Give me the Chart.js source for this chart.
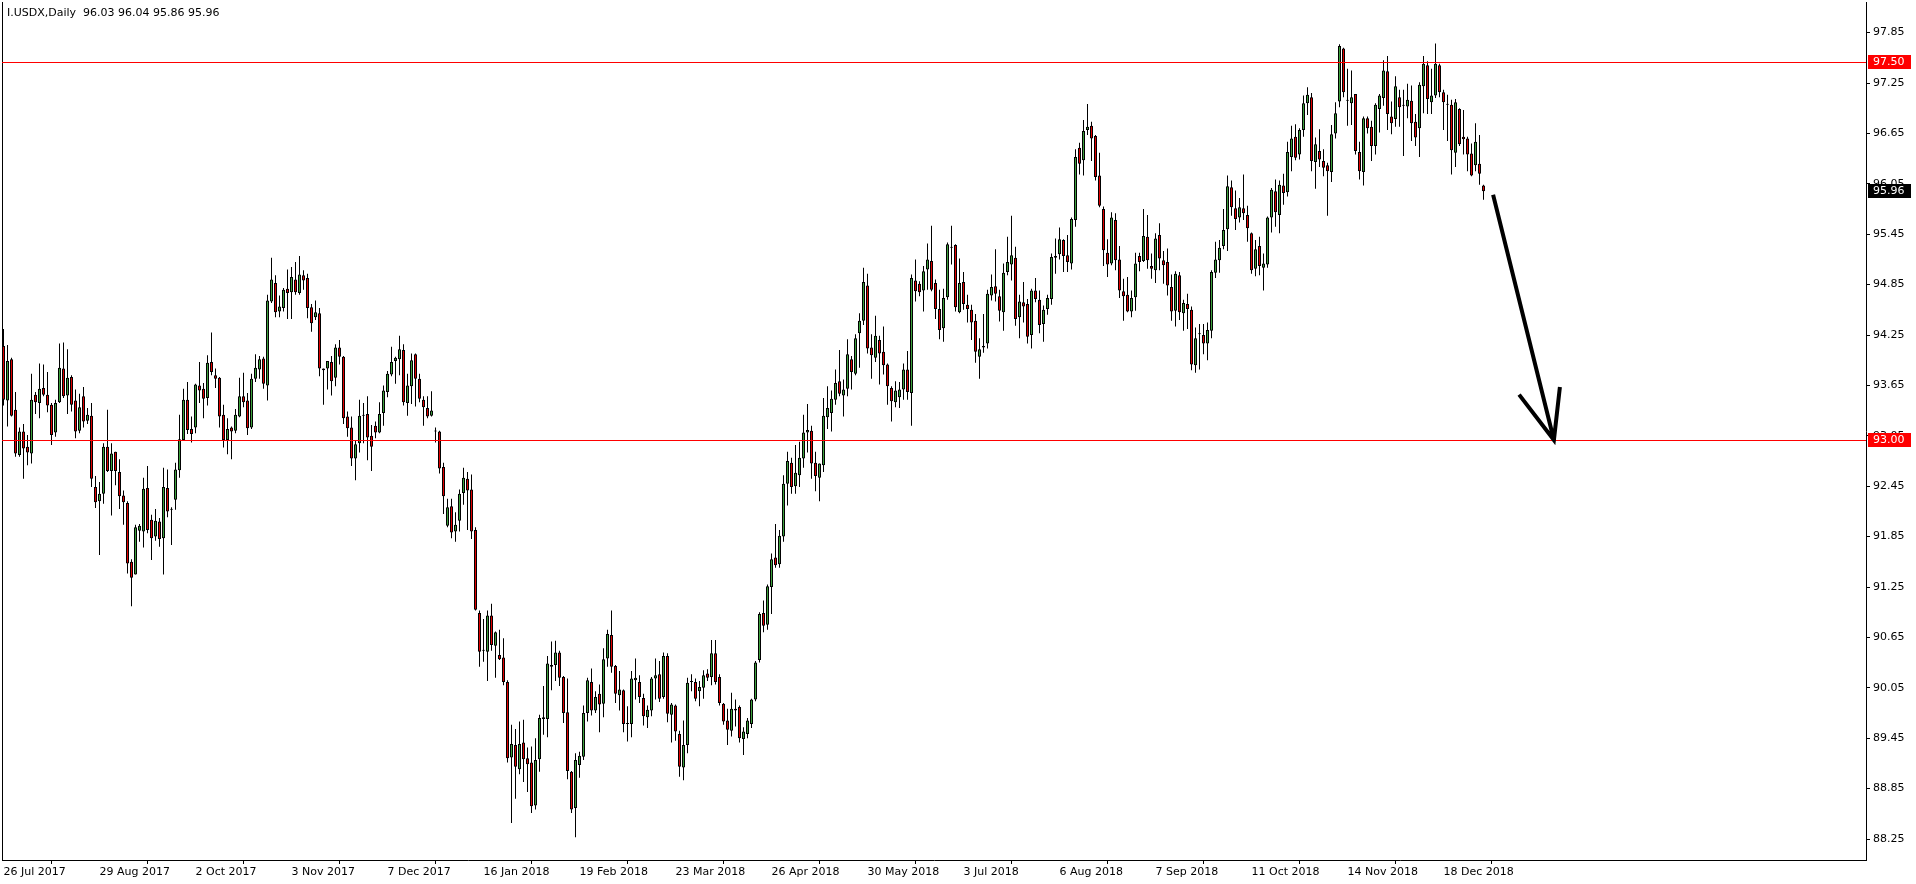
<!DOCTYPE html>
<html>
<head>
<meta charset="utf-8">
<script src="https://cdn.jsdelivr.net/npm/chart.js@4.4.1/dist/chart.umd.min.js"></script>
<style>
html,body{margin:0;padding:0;background:#fff;overflow:hidden}
#wrap{position:relative;width:1916px;height:884px}
#hdr{position:absolute;left:7px;top:6px;font:11px "DejaVu Sans";line-height:13px;color:#000;white-space:pre}
</style>
</head>
<body>
<div id="wrap">
<canvas id="c" width="1916" height="884"></canvas>
<div id="hdr">I.USDX,Daily  96.03 96.04 95.86 95.96</div>
</div>
<script>
// ---- data (daily OHLC, bar index 0 = 26 Jul 2017) ----
const opens = [
94.12,93.47,93.96,93.36,92.82,93.10,92.92,92.84,93.54,93.44,93.62,93.54,93.42,93.09,93.45,93.85,93.53,93.75,93.47,93.11,
93.52,93.23,93.29,92.44,92.27,92.36,92.92,92.63,92.86,92.62,92.34,92.25,91.55,91.40,91.92,91.91,92.43,92.05,91.85,92.03,
91.83,92.43,92.17,92.29,92.64,93.00,93.48,93.13,93.15,93.65,93.61,93.50,93.93,93.77,93.74,93.30,93.00,93.15,93.11,93.28,
93.52,93.47,93.15,93.73,93.84,93.97,93.65,94.65,94.87,94.53,94.57,94.80,94.76,94.91,94.75,94.96,94.93,94.58,94.46,94.51,
93.85,93.85,93.93,93.74,94.10,93.99,93.28,93.15,92.78,92.96,93.29,93.31,93.05,93.17,93.09,93.32,93.57,93.78,93.94,93.96,
94.07,93.44,93.64,94.02,93.73,93.48,93.38,93.29,93.10,93.10,92.68,91.98,92.21,91.91,92.04,92.37,92.54,92.41,91.93,90.94,
90.50,90.48,90.91,90.55,90.44,90.41,90.12,89.22,89.37,89.08,89.40,89.21,89.16,88.65,89.20,89.68,89.68,90.30,90.32,90.47,
90.18,89.76,89.05,88.62,89.13,89.23,89.75,90.12,89.78,89.98,89.86,90.40,90.68,90.31,89.96,90.02,89.62,89.62,90.14,90.12,
89.93,89.70,89.78,90.16,90.21,89.94,90.43,89.73,89.84,89.50,89.10,89.37,90.12,90.12,90.01,90.05,90.22,90.18,90.46,90.18,
89.86,89.66,89.54,89.80,89.82,89.44,89.50,89.62,89.91,90.38,90.94,90.80,91.25,91.60,91.52,91.85,92.48,92.73,92.45,92.58,
92.78,93.09,93.11,92.73,92.55,92.70,93.27,93.32,93.48,93.70,93.53,93.61,93.96,93.79,94.27,94.42,94.84,94.10,93.98,94.19,
94.05,93.90,93.62,93.45,93.51,93.60,93.84,93.56,94.90,94.86,94.78,95.03,95.13,94.87,94.56,94.33,94.70,95.30,95.32,94.52,
94.88,94.61,94.55,94.42,93.99,94.10,94.15,94.72,94.83,94.71,94.52,95.00,95.09,95.17,94.46,94.64,94.62,94.25,94.78,94.67,
94.38,94.56,94.68,95.17,95.21,95.38,95.20,95.10,95.62,96.48,96.33,96.69,96.74,96.62,96.15,95.75,95.23,95.10,95.62,95.15,
94.77,94.73,94.53,94.70,95.19,95.13,95.42,95.07,95.02,95.44,95.14,95.12,94.82,94.54,94.96,94.51,94.62,94.55,93.89,94.26,
94.25,94.15,94.30,94.99,95.14,95.31,95.51,96.01,95.76,95.65,95.76,95.68,95.46,95.04,95.31,95.05,95.09,95.65,95.96,95.68,
96.03,95.95,96.37,96.61,96.40,96.69,97.01,97.08,96.31,96.44,96.32,96.27,96.19,96.65,97.03,97.66,97.04,97.01,97.12,96.43,
96.19,96.83,96.73,96.50,96.94,97.07,97.39,96.85,96.82,97.08,96.99,96.97,97.04,96.79,96.71,97.21,97.46,97.02,97.10,97.46,
97.14,97.00,96.99,96.42,96.94,96.61,96.59,96.41,96.27,96.29,96.03
];
const highs = [
94.32,94.13,93.98,93.57,93.15,93.19,93.06,93.79,93.57,93.91,93.90,93.81,93.44,93.48,94.15,94.16,94.08,93.77,93.60,93.55,
93.63,93.38,93.44,92.57,92.50,92.96,93.36,92.96,92.86,92.77,92.40,92.27,91.58,91.99,92.00,92.55,92.69,92.11,92.18,92.07,
92.67,92.65,92.20,92.73,93.30,93.61,93.69,93.28,93.67,93.93,93.68,94.01,94.28,93.85,93.75,93.42,93.26,93.16,93.37,93.74,
93.80,93.56,93.79,94.02,94.00,93.99,94.73,95.17,94.96,94.72,94.81,95.03,95.06,95.12,95.19,95.02,94.98,94.62,94.66,94.57,
93.85,93.94,94.00,94.14,94.19,94.00,93.34,93.28,93.00,93.48,93.44,93.52,93.18,93.22,93.45,93.65,93.82,94.11,93.99,94.24,
94.14,93.79,94.03,94.03,93.79,93.52,93.52,93.58,93.15,93.11,92.73,92.30,92.30,92.14,92.41,92.67,92.62,92.59,91.96,90.97,
90.87,90.97,91.05,90.72,90.74,90.64,90.14,89.61,89.56,89.65,89.67,89.34,89.35,89.45,89.73,90.07,90.43,90.60,90.61,90.49,
90.19,90.16,89.06,89.27,89.29,89.84,90.17,90.28,90.01,90.09,90.52,90.74,90.97,90.32,90.25,90.03,89.83,90.25,90.40,90.20,
89.98,89.84,90.18,90.40,90.37,90.47,90.46,89.87,89.85,89.54,89.66,90.17,90.21,90.16,90.13,90.26,90.27,90.62,90.62,90.21,
89.87,89.80,89.99,89.91,89.84,89.58,89.69,89.92,90.37,90.95,91.09,91.28,91.65,92.00,91.93,92.58,92.86,92.79,92.94,92.98,
93.30,93.43,93.17,92.86,92.72,93.50,93.64,93.59,93.84,94.07,93.72,94.20,94.00,94.26,94.51,95.05,94.98,94.26,94.48,94.24,
94.35,93.91,93.64,93.70,93.69,93.91,94.06,94.97,95.15,94.89,95.07,95.34,95.55,94.91,94.79,94.80,95.35,95.55,95.33,95.16,
95.00,94.73,94.61,94.50,94.21,94.50,94.79,94.97,95.27,94.79,95.10,95.42,95.67,95.30,94.73,94.88,94.68,94.80,94.93,94.78,
94.60,94.73,95.22,95.40,95.53,95.39,95.44,95.65,96.46,96.54,96.81,97.00,96.79,96.63,96.42,95.78,95.39,95.71,95.70,95.31,
94.92,94.94,94.78,95.23,95.23,95.75,95.68,95.22,95.46,95.58,95.25,95.28,94.97,95.01,95.00,94.67,94.74,94.59,94.34,94.38,
94.38,94.40,95.02,95.36,95.38,95.75,96.15,96.09,95.97,95.88,96.16,95.79,95.47,95.38,95.42,95.22,95.66,96.00,96.10,96.09,
96.17,96.55,96.74,96.76,96.71,97.10,97.20,97.13,96.60,96.70,96.46,96.30,96.75,97.02,97.71,97.67,97.42,97.40,97.12,96.55,
96.85,96.85,96.80,97.01,97.12,97.52,97.57,97.03,97.33,97.17,97.17,97.24,97.22,96.88,97.26,97.57,97.51,97.42,97.72,97.48,
97.17,97.11,97.05,97.06,96.95,96.93,96.61,96.53,96.77,96.63,96.04
];
const lows = [
93.41,93.16,93.28,92.80,92.80,92.54,92.70,92.72,93.31,93.26,93.52,93.33,92.94,93.04,93.44,93.50,93.31,93.34,93.02,93.08,
93.15,93.19,92.44,92.19,91.63,92.24,92.62,92.10,92.46,92.18,91.99,91.41,91.02,91.40,91.79,91.72,91.89,91.57,91.80,91.73,
91.40,92.08,91.75,92.17,92.55,92.99,93.07,92.97,93.08,93.44,93.26,93.41,93.77,93.62,93.15,92.91,92.83,92.77,93.08,93.27,
93.39,93.06,93.13,93.69,93.73,93.61,93.47,94.63,94.46,94.46,94.53,94.44,94.44,94.73,94.73,94.79,94.45,94.29,94.43,93.76,
93.42,93.60,93.53,93.64,93.90,93.19,93.04,92.69,92.52,92.85,92.96,92.76,92.63,93.02,93.08,93.17,93.51,93.76,93.67,93.77,
93.41,93.29,93.43,93.40,93.45,93.17,93.26,93.28,92.97,92.60,92.12,91.96,91.83,91.79,91.91,92.23,91.93,91.82,90.97,90.30,
90.36,90.13,90.49,90.17,90.38,90.08,89.16,88.44,88.73,89.02,88.93,88.81,88.56,88.60,89.05,89.49,89.46,90.02,90.13,90.07,
89.63,88.96,88.56,88.27,88.98,89.19,89.65,89.72,89.75,89.52,89.70,90.30,90.23,89.87,89.78,89.52,89.41,89.46,89.91,89.87,
89.60,89.57,89.71,89.91,89.88,89.92,89.64,89.40,89.42,88.99,88.95,89.27,90.01,89.89,89.83,89.92,90.13,90.08,90.09,89.84,
89.61,89.37,89.47,89.59,89.40,89.25,89.45,89.57,89.89,90.35,90.71,90.74,90.93,91.48,91.48,91.79,92.22,92.36,92.36,92.44,
92.67,92.85,92.54,92.39,92.27,92.62,93.13,93.10,93.42,93.52,93.28,93.52,93.60,93.77,93.86,94.37,94.03,93.73,93.93,93.66,
93.78,93.42,93.22,93.39,93.38,93.48,93.48,93.17,94.65,94.71,94.53,94.79,94.77,94.44,94.20,94.17,94.67,95.09,94.53,94.51,
94.55,94.40,94.19,93.92,93.73,94.04,94.09,94.66,94.65,94.41,94.30,94.96,94.90,94.36,94.21,94.40,94.15,94.09,94.64,94.27,
94.17,94.49,94.61,94.98,95.15,95.00,95.00,95.03,95.54,96.16,96.15,96.63,96.32,96.09,95.77,95.07,94.94,95.08,95.02,94.69,
94.42,94.52,94.46,94.54,95.01,95.12,95.04,94.92,94.87,95.02,94.86,94.72,94.42,94.35,94.43,94.30,94.32,93.83,93.80,93.84,
94.02,93.95,94.21,94.93,94.99,95.27,95.25,95.67,95.50,95.59,95.62,95.36,94.98,94.95,94.96,94.78,95.05,95.47,95.54,95.46,
95.80,95.90,96.20,96.33,96.34,96.61,96.87,96.20,95.99,96.25,96.14,95.67,96.07,96.59,96.96,97.08,96.74,96.75,96.40,96.10,
96.03,96.65,96.32,96.40,96.66,96.98,96.69,96.64,96.73,96.73,96.38,96.83,96.56,96.50,96.37,96.89,96.88,96.88,97.07,97.08,
96.69,96.56,96.16,96.25,96.50,96.40,96.20,96.14,96.20,96.04,95.86
];
const closes = [
93.48,93.94,93.29,92.84,93.10,92.90,92.85,93.48,93.45,93.61,93.54,93.41,93.06,93.44,93.86,93.52,93.74,93.42,93.10,93.39,
93.22,93.30,92.54,92.26,92.36,92.92,92.63,92.84,92.63,92.33,92.26,91.53,91.36,91.96,91.98,92.42,91.93,91.83,92.04,91.82,
92.44,92.15,92.18,92.65,93.01,93.48,93.12,93.07,93.66,93.59,93.49,93.92,93.81,93.73,93.28,93.00,93.13,93.10,93.30,93.52,
93.45,93.14,93.73,93.86,93.96,93.67,94.66,94.91,94.52,94.59,94.79,94.75,94.94,94.76,94.97,94.90,94.57,94.39,94.52,93.85,
93.83,93.94,93.70,94.10,93.99,93.26,93.14,92.78,92.95,93.29,93.30,93.03,92.92,93.09,93.31,93.59,93.79,93.93,93.98,94.08,
93.45,93.65,93.95,93.73,93.49,93.39,93.28,93.35,93.11,92.66,92.33,92.20,91.90,91.99,92.36,92.55,92.40,91.91,90.98,90.48,
90.49,90.91,90.56,90.71,90.39,90.12,89.21,89.38,89.11,89.38,89.20,89.14,88.64,89.19,89.69,89.70,90.34,90.32,90.47,90.17,
89.75,89.06,88.60,89.19,89.24,89.75,90.14,89.78,89.94,89.85,90.39,90.69,90.30,89.98,90.03,89.62,89.62,90.16,90.17,89.94,
89.71,89.79,90.16,90.20,89.92,90.43,89.74,89.85,89.53,89.11,89.37,90.11,90.13,89.92,90.06,90.20,90.17,90.46,90.12,89.87,
89.65,89.55,89.80,89.78,89.45,89.53,89.66,89.91,90.35,90.93,90.79,91.26,91.58,91.51,91.86,92.48,92.75,92.44,92.61,92.79,
93.09,93.12,92.72,92.57,92.72,93.29,93.38,93.49,93.68,93.55,93.60,94.02,93.81,94.21,94.42,94.88,94.09,94.01,94.24,94.03,
93.89,93.64,93.46,93.59,93.60,93.84,93.57,94.93,94.77,94.76,95.01,95.15,94.79,94.56,94.31,94.69,95.33,95.29,94.58,94.87,
94.62,94.56,94.40,94.05,94.08,94.12,94.74,94.82,94.74,94.54,94.99,95.12,95.20,94.44,94.65,94.59,94.23,94.78,94.68,94.37,
94.55,94.69,95.18,95.19,95.39,95.19,95.12,95.63,96.37,96.29,96.68,96.73,96.59,96.13,95.79,95.26,95.09,95.65,95.14,94.78,
94.71,94.53,94.69,95.10,95.12,95.43,95.14,95.04,95.40,95.16,95.08,94.84,94.53,94.98,94.52,94.63,94.56,93.90,94.21,94.26,
94.15,94.31,95.00,95.15,95.29,95.50,96.02,95.77,95.63,95.77,95.70,95.52,95.02,95.27,95.07,95.10,95.65,95.98,95.71,96.04,
95.94,96.43,96.59,96.36,96.69,97.01,97.11,96.32,96.52,96.34,96.24,96.20,96.64,96.89,97.69,97.14,97.04,97.08,96.44,96.20,
96.83,96.71,96.50,96.99,97.10,97.40,96.88,96.77,97.21,96.96,96.98,97.05,96.77,96.60,97.23,97.48,97.06,97.10,97.48,97.14,
97.02,96.99,96.45,97.02,96.52,96.58,96.40,96.15,96.55,96.17,95.96
];
const dateTickBars = [0,24,48,72,96,120,144,168,192,216,240,264,288,312,336,360];
const dateLabels = ["26 Jul 2017","29 Aug 2017","2 Oct 2017","3 Nov 2017","7 Dec 2017","16 Jan 2018","19 Feb 2018","23 Mar 2018",
  "26 Apr 2018","30 May 2018","3 Jul 2018","6 Aug 2018","7 Sep 2018","11 Oct 2018","14 Nov 2018","18 Dec 2018"];
const priceTicks = [97.85,97.25,96.65,96.05,95.45,94.85,94.25,93.65,93.05,92.45,91.85,91.25,90.65,90.05,89.45,88.85,88.25];
const levelLines = [97.50, 93.00];
const lastClose = 95.96;
// forecast arrow, in (bar index, price) units
const arrowShaft = [[372.4, 95.92], [387.6, 93.00]];
const arrowHeadLeft = [378.9, 93.54];
const arrowHeadRight = [389.1, 93.63];

// ---- chart ----
const GREEN = '#3ca03c', RED = '#e00000';
const FONT = {family: 'DejaVu Sans', size: 11};
const idx = opens.map((_, i) => i);
const bodyData = idx.map(i => ({x: i, y: [opens[i], closes[i]]}));
const wickData = idx.map(i => ({x: i, y: [lows[i], highs[i]]}));
const bodyColors = idx.map(i => closes[i] >= opens[i] ? GREEN : RED);

const overlay = {
  id: 'overlay',
  afterDraw(chart) {
    const {ctx, chartArea: a, scales: {x, y}} = chart;
    ctx.save();
    // left frame line
    ctx.fillStyle = '#000';
    ctx.fillRect(Math.round(a.left), a.top, 1, a.bottom - a.top);
    // horizontal level lines
    ctx.fillStyle = '#ff0000';
    levelLines.forEach(v => {
      const py = Math.round(y.getPixelForValue(v));
      ctx.fillRect(a.left, py, a.right - a.left, 1);
    });
    // arrow
    ctx.strokeStyle = '#000';
    ctx.lineWidth = 4;
    ctx.lineCap = 'butt';
    const P = p => [x.getPixelForValue(p[0]), y.getPixelForValue(p[1])];
    const s0 = P(arrowShaft[0]), s1 = P(arrowShaft[1]);
    const hl = P(arrowHeadLeft), hr = P(arrowHeadRight);
    ctx.beginPath();
    ctx.moveTo(s0[0], s0[1]); ctx.lineTo(s1[0], s1[1]);
    ctx.moveTo(hl[0], hl[1]); ctx.lineTo(s1[0], s1[1]); ctx.lineTo(hr[0], hr[1]);
    ctx.stroke();
    // price labels on the axis
    ctx.font = '11px "DejaVu Sans"';
    ctx.textBaseline = 'middle';
    ctx.textAlign = 'left';
    const tag = (v, bg) => {
      const py = y.getPixelForValue(v);
      ctx.fillStyle = bg;
      ctx.fillRect(a.right + 2, Math.round(py) - 7, 43, 14);
      ctx.fillStyle = '#fff';
      ctx.fillText(v.toFixed(2), a.right + 7, Math.round(py) + 0.5);
    };
    levelLines.forEach(v => tag(v, '#ff0000'));
    tag(lastClose, '#000');
    ctx.restore();
  }
};

new Chart(document.getElementById('c'), {
  type: 'bar',
  data: {
    datasets: [
      {data: bodyData, backgroundColor: bodyColors, borderColor: '#000', borderWidth: 1,
       borderSkipped: false, barThickness: 3, grouped: false, minBarLength: 1, inflateAmount: 0},
      {data: wickData, backgroundColor: '#000', borderWidth: 0, barThickness: 1,
       grouped: false, inflateAmount: 0}
    ]
  },
  options: {
    responsive: false,
    animation: false,
    devicePixelRatio: 1,
    layout: {padding: {left: 2, top: 2, right: 0, bottom: 0}},
    plugins: {legend: {display: false}, tooltip: {enabled: false}},
    scales: {
      x: {
        type: 'linear', position: 'bottom', min: -0.375, max: 465.625, offset: false,
        afterBuildTicks: s => { s.ticks = dateTickBars.map(v => ({value: v})); },
        afterFit: s => { s.height = 24; s.paddingLeft = 0; s.paddingRight = 0; },
        ticks: {
          autoSkip: false, maxRotation: 0, minRotation: 0, align: 'start', padding: 2,
          color: '#000', font: FONT,
          callback: v => { const k = dateTickBars.indexOf(v); return k >= 0 ? dateLabels[k] : ''; }
        },
        grid: {drawOnChartArea: false, drawTicks: true, tickLength: 4, color: '#000'},
        border: {display: true, color: '#000', width: 1}
      },
      y: {
        type: 'linear', position: 'right', min: 88.0, max: 98.2143,
        afterBuildTicks: s => { s.ticks = priceTicks.map(v => ({value: v})); },
        afterFit: s => { s.width = 50; s.paddingTop = 0; s.paddingBottom = 0; },
        ticks: {autoSkip: false, padding: 3, color: '#000', font: FONT, callback: v => v.toFixed(2)},
        grid: {drawOnChartArea: false, drawTicks: true, tickLength: 4, color: '#000'},
        border: {display: true, color: '#000', width: 1}
      }
    }
  },
  plugins: [overlay]
});
</script>
</body>
</html>
